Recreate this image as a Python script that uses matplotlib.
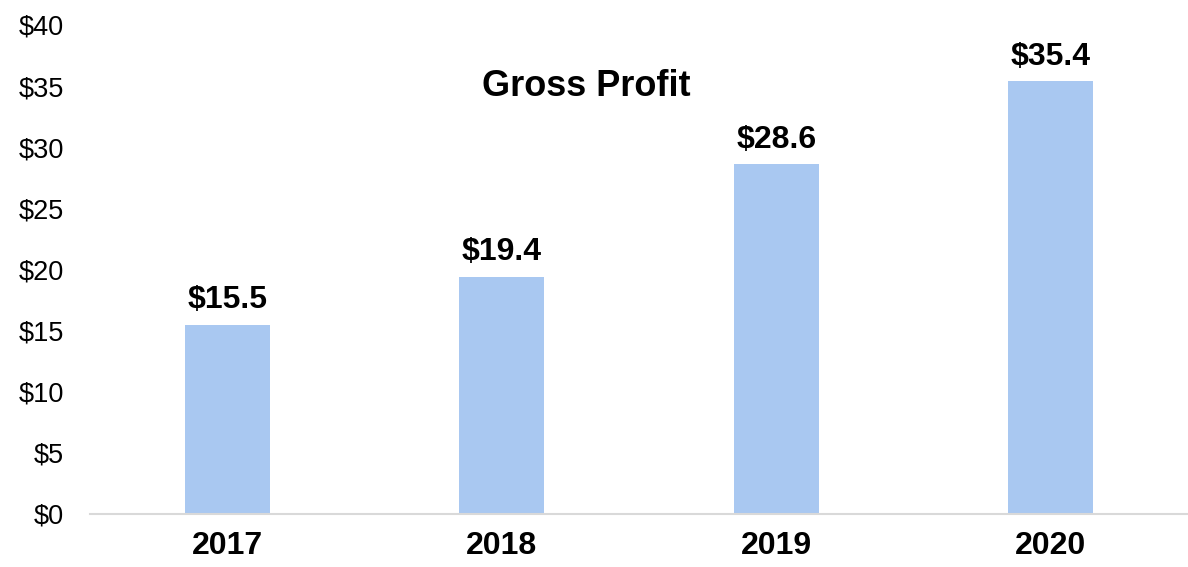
import matplotlib
matplotlib.use("Agg")
import matplotlib.pyplot as plt
import matplotlib.transforms as mtransforms

years = ["2017", "2018", "2019", "2020"]
gross_profit = [15.5, 19.4, 28.6, 35.4]
y_ticks = [0, 5, 10, 15, 20, 25, 30, 35, 40]
y_tick_labels = ["$" + str(t) for t in y_ticks]

plt.rcParams['font.family'] = ['Liberation Sans', 'DejaVu Sans']

fig = plt.figure(figsize=(11.88, 5.67), dpi=100)
ax = fig.add_axes([90/1188, 1 - 514/567, 1 - 90/1188, (514 - 25)/567])

x = list(range(len(years)))
ax.bar(x, gross_profit, width=0.31, color="#A9C8F1", zorder=2)

for xi, v in zip(x, gross_profit):
    ax.annotate(f"${v}", (xi, v), xytext=(0, 7), textcoords="offset points",
                ha="center", va="bottom", fontsize=23, fontweight="bold", color="black")

ax.set_xlim(-0.5, 3.5)
ax.set_ylim(0, 40)
ax.set_yticks(y_ticks)
ax.set_yticklabels(y_tick_labels, fontsize=19.5)
ax.set_xticks(x)
ax.set_xticklabels(years, fontsize=23, fontweight="bold")

for s in ["top", "right", "left"]:
    ax.spines[s].set_visible(False)
ax.spines["bottom"].set_color("#D9D9D9")
ax.spines["bottom"].set_linewidth(1.5)
ax.tick_params(axis="both", length=0)
ax.tick_params(axis="y", pad=19)
ax.tick_params(axis="x", pad=12)

trans = mtransforms.blended_transform_factory(ax.transAxes, ax.transData)
ax.text(0.452, 35.0, "Gross Profit", transform=trans,
        ha="center", va="center", fontsize=26, fontweight="bold")

fig.savefig("out.png", dpi=100)
